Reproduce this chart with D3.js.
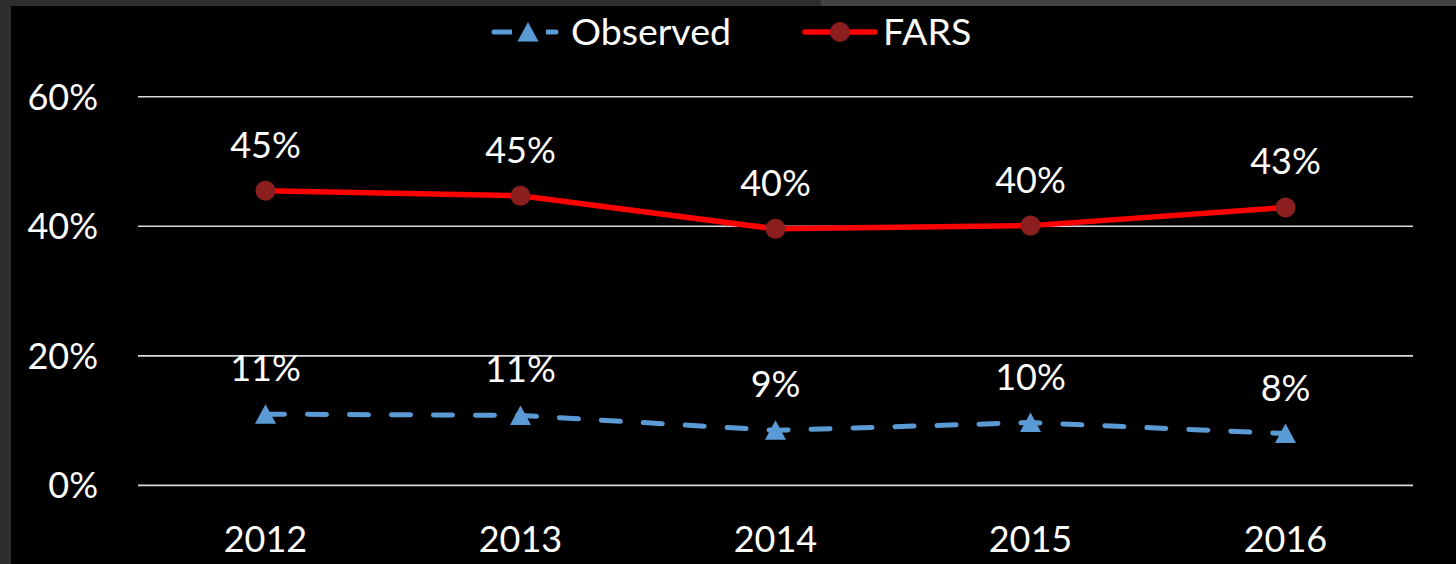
<!DOCTYPE html>
<html><head><meta charset="utf-8">
<script src="https://cdn.jsdelivr.net/npm/d3@7"></script>
<style>html,body{margin:0;padding:0;background:#2e2e2e;overflow:hidden}</style>
</head><body>
<svg id="c" width="1456" height="564"></svg>
<script>
const years = ["2012","2013","2014","2015","2016"];
const observed = [11.0, 10.8, 8.5, 9.7, 8.0];
const observedLabels = ["11%","11%","9%","10%","8%"];
const fars = [45.5, 44.7, 39.6, 40.1, 42.9];
const farsLabels = ["45%","45%","40%","40%","43%"];
const yTicks = [0, 20, 40, 60];
const yTickLabels = ["0%","20%","40%","60%"];

const svg = d3.select("#c");
const font = "Lato, 'Open Sans', sans-serif";
// backgrounds
svg.append("rect").attr("x",0).attr("y",0).attr("width",1456).attr("height",564).attr("fill","#2e2e2e");
svg.append("rect").attr("x",821).attr("y",0).attr("width",635).attr("height",6).attr("fill","#434343");
svg.append("rect").attr("x",11).attr("y",6).attr("width",1445).attr("height",558).attr("fill","#000");

const x = d3.scaleBand().domain(years).range([138,1413]);
const y = d3.scaleLinear().domain([0,60]).range([485.4,96.7]);
const cx = d => x(d) + x.bandwidth()/2;

// gridlines
svg.append("g").selectAll("line").data(yTicks).join("line")
  .attr("x1",138).attr("x2",1413).attr("y1",d=>y(d)).attr("y2",d=>y(d))
  .attr("stroke","#d9d9d9").attr("stroke-width",1.6);

// y labels
svg.append("g").selectAll("text").data(yTicks).join("text")
  .attr("x",98).attr("y",d=>y(d)).attr("dy","0.36em").attr("text-anchor","end")
  .attr("fill","#fff").attr("font-family",font).attr("font-size",36)
  .text((d,i)=>yTickLabels[i]);

// x labels
svg.append("g").selectAll("text").data(years).join("text")
  .attr("x",d=>cx(d)).attr("y",552).attr("text-anchor","middle")
  .attr("fill","#fff").attr("font-family",font).attr("font-size",36)
  .text(d=>d);

const line = d3.line().x((d,i)=>cx(years[i])).y(d=>y(d));

// FARS
svg.append("path").datum(fars).attr("d",line).attr("fill","none")
  .attr("stroke","#ff0000").attr("stroke-width",5.5).attr("stroke-linejoin","round");
svg.append("g").selectAll("circle").data(fars).join("circle")
  .attr("cx",(d,i)=>cx(years[i])).attr("cy",d=>y(d)).attr("r",10).attr("fill","#8b1f1f");

// Observed
svg.append("path").datum(observed).attr("d",line).attr("fill","none")
  .attr("stroke","#5b9bd5").attr("stroke-width",5).attr("stroke-dasharray","19 23")
  .attr("stroke-linecap","round");
const tri = "M0,-10L10.5,9.5L-10.5,9.5Z";
svg.append("g").selectAll("path").data(observed).join("path")
  .attr("d",tri).attr("transform",(d,i)=>`translate(${cx(years[i])},${y(d)})`)
  .attr("fill","#5b9bd5");

// data labels
svg.append("g").selectAll("text").data(fars).join("text")
  .attr("x",(d,i)=>cx(years[i])).attr("y",d=>y(d)-33).attr("text-anchor","middle")
  .attr("fill","#fff").attr("font-family",font).attr("font-size",36)
  .text((d,i)=>farsLabels[i]);
svg.append("g").selectAll("text").data(observed).join("text")
  .attr("x",(d,i)=>cx(years[i])).attr("y",d=>y(d)-33).attr("text-anchor","middle")
  .attr("fill","#fff").attr("font-family",font).attr("font-size",36)
  .text((d,i)=>observedLabels[i]);

// legend
const lg = svg.append("g");
lg.append("line").attr("x1",494).attr("x2",556).attr("y1",32).attr("y2",32)
  .attr("stroke","#5b9bd5").attr("stroke-width",5).attr("stroke-linecap","round");
lg.append("rect").attr("x",512).attr("y",26).attr("width",34).attr("height",12).attr("fill","#000");
lg.append("path").attr("d",tri).attr("transform","translate(528,32)").attr("fill","#5b9bd5");
lg.append("text").attr("x",571).attr("y",45).attr("fill","#fff").attr("font-family",font).attr("font-size",37.5).text("Observed");
lg.append("line").attr("x1",805).attr("x2",875).attr("y1",32).attr("y2",32)
  .attr("stroke","#ff0000").attr("stroke-width",5.5).attr("stroke-linecap","round");
lg.append("circle").attr("cx",840).attr("cy",32).attr("r",10).attr("fill","#8b1f1f");
lg.append("text").attr("x",883).attr("y",45).attr("fill","#fff").attr("font-family",font).attr("font-size",37.5).text("FARS");
</script>
</body></html>
